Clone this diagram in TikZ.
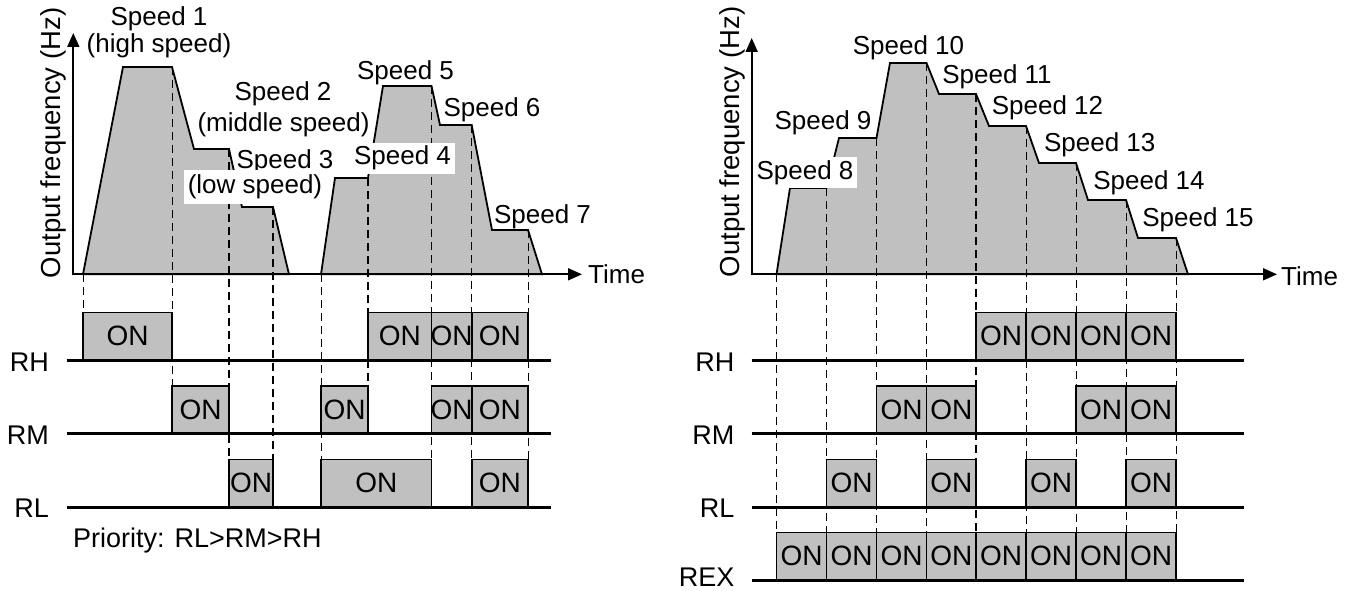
\documentclass[tikz,border=0pt]{standalone}
\usepackage{fontspec}
\setmainfont{Liberation Sans}
\usetikzlibrary{arrows.meta}
\definecolor{profgray}{HTML}{C0C0C0}
\newcommand\onbox[5]{%
  \draw[onb] (#2,#4) rectangle (#3,#5);
  \node[onlbl] (#1) at ({(#2+#3)/2},{(#4+#5)/2}) {ON};}
\begin{document}
\begin{tikzpicture}[x=1pt,y=-1pt,
  prof/.style={draw=black, line width=1.8pt, fill=profgray, line join=miter},
  thindash/.style={line width=1pt, dash pattern=on 8pt off 5pt},
  thickdash/.style={line width=1.8pt, dash pattern=on 8pt off 5pt},
  axisline/.style={line width=1.8pt, arrows={Triangle[length=14pt,width=12pt]-Triangle[length=14pt,width=12pt]}},
  sig/.style={line width=3pt},
  onb/.style={draw=black, line width=1.6pt, fill=profgray},
  onlbl/.style={inner sep=0pt, font=\fontsize{28pt}{31pt}\selectfont},
  lbl/.style={inner sep=0pt, anchor=base, font=\fontsize{26pt}{29pt}\selectfont},
  wlbl/.style={lbl, fill=white, inner xsep=4pt, inner ysep=3.5pt},
  siglbl/.style={inner sep=0pt, anchor=base east, font=\fontsize{27pt}{30pt}\selectfont},
  ylbl/.style={inner sep=0pt, anchor=base, rotate=90, font=\fontsize{27.5pt}{30pt}\selectfont},
  timelbl/.style={inner sep=0pt, anchor=base west, font=\fontsize{26pt}{29pt}\selectfont}
]
\useasboundingbox (0,0) rectangle (1353,591);

% ---------------- LEFT CHART ----------------
\draw[prof] (83,274.3) -- (123,67) -- (172,67) -- (194,149) -- (229,149) -- (242,207) -- (273,207) -- (289,274.3) -- cycle;
\draw[prof] (321,274.3) -- (335,178) -- (368,178) -- (383,86) -- (431.5,86) -- (440,125) -- (471.7,125) -- (492,230) -- (528,230) -- (542,274.3) -- cycle;

\draw[thindash] (83,274.3) -- (83,312.5);
\draw[thindash] (172,67) -- (172,386);
\draw[thickdash] (229,149) -- (229,459.5);
\draw[thickdash] (273,207) -- (273,459.5);
\draw[thindash] (321,274.3) -- (321,459.5);
\draw[thickdash] (368,178) -- (368,386);
\draw[thickdash] (431.5,86) -- (431.5,459.5);
\draw[thindash] (471.7,125) -- (471.7,459.5);
\draw[thindash] (528,230) -- (528,459.5);

\coordinate (L-ytip) at (73.3,33);
\coordinate (L-org) at (73.3,274.3);
\coordinate (L-xtip) at (582,274.3);
\draw[axisline] (L-ytip) -- (L-org) -- (L-xtip);

\node[ylbl] (L-ylab) at (60,143) {Output frequency (Hz)};
\node[timelbl] (L-time) at (588,283) {Time};

\node[lbl] (s1) at (159,26) {Speed 1};
\node[lbl] (s1b) at (159,53) {(high speed)};
\node[lbl] (s2) at (283,101) {Speed 2};
\node[lbl] (s2b) at (283.5,132) {(middle speed)};
\node[lbl] (s3) at (285,168) {Speed 3};
\node[wlbl, inner ysep=5pt] (s3b) at (255,193.5) {(low speed)};
\node[wlbl] (s4) at (402.5,165) {Speed 4};
\node[lbl] (s5) at (405.5,80) {Speed 5};
\node[lbl] (s6) at (492,117) {Speed 6};
\node[lbl] (s7) at (542.5,223) {Speed 7};

% signals left
\onbox{lh1}{83}{172}{312.5}{360}
\onbox{lh2}{368}{431.5}{312.5}{360}
\onbox{lh3}{431.5}{471.7}{312.5}{360}
\onbox{lh4}{471.7}{528}{312.5}{360}
\onbox{lm1}{172}{229}{386}{433.5}
\onbox{lm2}{321}{368}{386}{433.5}
\onbox{lm3}{431.5}{471.7}{386}{433.5}
\onbox{lm4}{471.7}{528}{386}{433.5}
\onbox{ll1}{229}{273}{459.5}{507}
\onbox{ll2}{321}{431.5}{459.5}{507}
\onbox{ll3}{471.7}{528}{459.5}{507}

\draw[sig] (66.7,360) -- (551,360);
\draw[sig] (66.7,433.5) -- (551,433.5);
\draw[sig] (66.7,507) -- (551,507);

\node[siglbl] (L-RH) at (49,371) {RH};
\node[siglbl] (L-RM) at (49,444) {RM};
\node[siglbl] (L-RL) at (49,517) {RL};
\node[inner sep=0pt, anchor=base west, font=\fontsize{27pt}{30pt}\selectfont] (prio) at (73,547) {Priority: RL>RM>RH};

% ---------------- RIGHT CHART ----------------
\draw[prof] (776.5,274.3) -- (790,188) -- (826.5,188) -- (839,138) -- (876.5,138) -- (890,63) -- (926.5,63) -- (939,94) -- (976,94) -- (989,126) -- (1026,126) -- (1039,163) -- (1076,163) -- (1088,200) -- (1126,200) -- (1138,238) -- (1176,238) -- (1188,274.3) -- cycle;

\draw[thickdash] (776.5,274.3) -- (776.5,532.5);
\draw[thindash] (826.5,188) -- (826.5,532.5);
\draw[thickdash] (876.5,138) -- (876.5,532.5);
\draw[thindash] (926.5,63) -- (926.5,532.5);
\draw[thickdash] (976,94) -- (976,532.5);
\draw[thindash] (1026,126) -- (1026,532.5);
\draw[thindash] (1076,163) -- (1076,532.5);
\draw[thindash] (1126,200) -- (1126,532.5);
\draw[thindash] (1176,238) -- (1176,532.5);

\coordinate (R-ytip) at (751.7,38);
\coordinate (R-org) at (751.7,274.3);
\coordinate (R-xtip) at (1277,274.3);
\draw[axisline] (R-ytip) -- (R-org) -- (R-xtip);

\node[ylbl] (R-ylab) at (739.3,142) {Output frequency (Hz)};
\node[timelbl] (R-time) at (1281,285.5) {Time};

\node[wlbl] (s8) at (805,179.5) {Speed 8};
\node[lbl] (s9) at (823,130) {Speed 9};
\node[lbl] (s10) at (908.5,54.3) {Speed 10};
\node[lbl] (s11) at (997,83.3) {Speed 11};
\node[lbl] (s12) at (1047.5,114.3) {Speed 12};
\node[lbl] (s13) at (1099.7,151.7) {Speed 13};
\node[lbl] (s14) at (1149,189.3) {Speed 14};
\node[lbl] (s15) at (1198,226.7) {Speed 15};

% signals right
\onbox{rh1}{976}{1026}{312.5}{360}
\onbox{rh2}{1026}{1076}{312.5}{360}
\onbox{rh3}{1076}{1126}{312.5}{360}
\onbox{rh4}{1126}{1176}{312.5}{360}
\onbox{rm1}{876.5}{926.5}{386}{433.5}
\onbox{rm2}{926.5}{976}{386}{433.5}
\onbox{rm3}{1076}{1126}{386}{433.5}
\onbox{rm4}{1126}{1176}{386}{433.5}
\onbox{rl1}{826.5}{876.5}{459.5}{507}
\onbox{rl2}{926.5}{976}{459.5}{507}
\onbox{rl3}{1026}{1076}{459.5}{507}
\onbox{rl4}{1126}{1176}{459.5}{507}
\onbox{rx1}{776.5}{826.5}{532.5}{580}
\onbox{rx2}{826.5}{876.5}{532.5}{580}
\onbox{rx3}{876.5}{926.5}{532.5}{580}
\onbox{rx4}{926.5}{976}{532.5}{580}
\onbox{rx5}{976}{1026}{532.5}{580}
\onbox{rx6}{1026}{1076}{532.5}{580}
\onbox{rx7}{1076}{1126}{532.5}{580}
\onbox{rx8}{1126}{1176}{532.5}{580}

\draw[sig] (751.7,360) -- (1244,360);
\draw[sig] (751.7,433.5) -- (1244,433.5);
\draw[sig] (751.7,507) -- (1244,507);
\draw[sig] (751.7,580) -- (1244,580);

\node[siglbl] (R-RH) at (734.5,371) {RH};
\node[siglbl] (R-RM) at (734.5,444) {RM};
\node[siglbl] (R-RL) at (734.5,517) {RL};
\node[siglbl] (R-REX) at (734.5,586.5) {REX};
\end{tikzpicture}
\end{document}
